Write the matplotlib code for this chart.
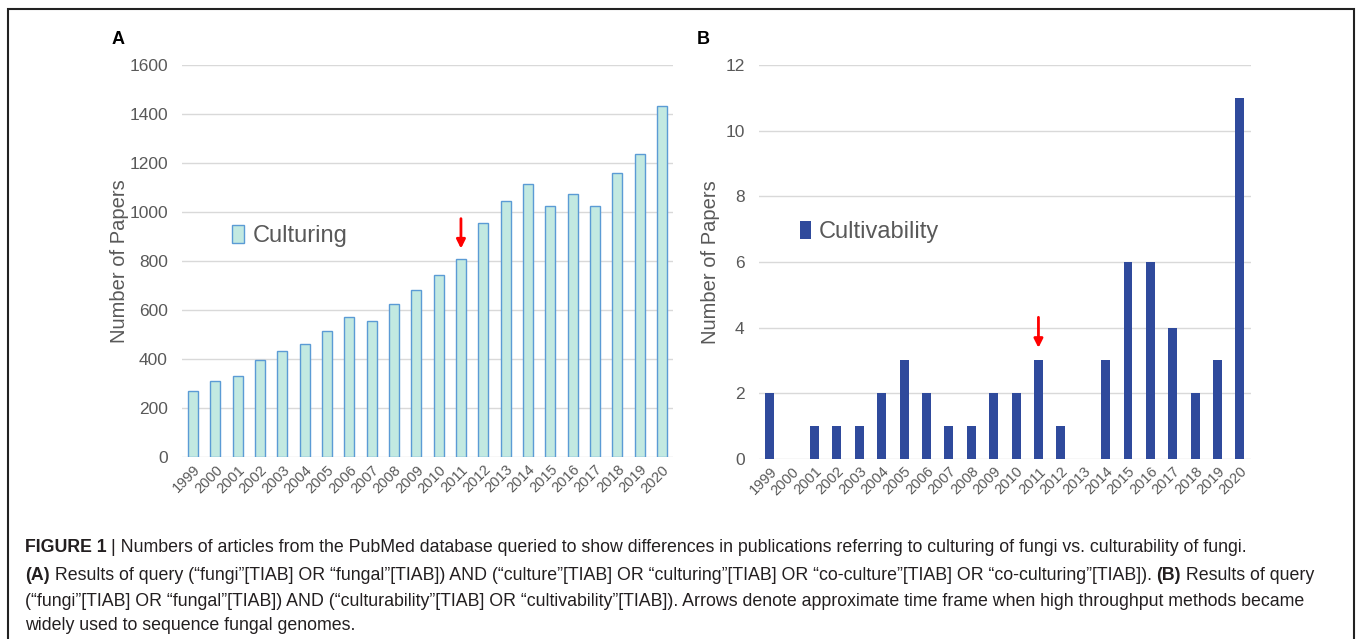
#%%
# -*- coding: utf-8 -*-
import matplotlib
matplotlib.use("Agg")
import matplotlib.pyplot as plt
from matplotlib.patches import Rectangle

plt.rcParams['font.family'] = ['Liberation Sans', 'DejaVu Sans']

#%% data
years = [str(y) for y in range(1999, 2021)]
culturing = [270, 310, 330, 398, 432, 462, 515, 572, 555, 626, 682, 745,
             808, 955, 1045, 1115, 1025, 1073, 1025, 1160, 1237, 1435]
cultivability = [2, 0, 1, 1, 1, 2, 3, 2, 1, 1, 2, 2, 3, 1, 0, 3, 6, 6, 4, 2, 3, 11]
arrow_year = "2011"

#%% figure
fig = plt.figure(figsize=(13.57, 6.39), dpi=100)
grey = "#595959"

def style(ax, ymax, step, lpad):
    ax.set_ylim(0, ymax)
    ax.set_xlim(-0.5, len(years) - 0.5)
    ax.set_yticks(range(0, ymax + 1, step))
    ax.grid(axis="y", color="#d9d9d9", linewidth=1)
    ax.set_axisbelow(True)
    for s in ax.spines.values():
        s.set_visible(False)
    ax.tick_params(length=0, colors=grey, labelsize=12.5)
    ax.tick_params(axis="y", pad=10)
    ax.set_xticks(range(len(years)))
    ax.set_xticklabels(years, rotation=45, ha="right", rotation_mode="anchor",
                       fontsize=10.5, color=grey)
    ax.tick_params(axis="x", pad=4)
    ax.set_ylabel("Number of Papers", fontsize=14.5, color=grey, labelpad=lpad)

# A
ax1 = fig.add_axes([0.134, 0.2848, 0.362, 0.613])
ax1.bar(years, culturing, width=0.45, color="#c2e9e1", edgecolor="#5b9bd5",
        linewidth=1, label="Culturing")
style(ax1, 1600, 200, 0)
ax1.legend(loc="center left", bbox_to_anchor=(0.079, 0.564), frameon=False,
           fontsize=17, handlelength=0.5, handleheight=0.8, handletextpad=0.35,
           borderpad=0, labelcolor=grey)
i = years.index(arrow_year)
ax1.annotate("", xy=(i, 840), xytext=(i, 985),
             arrowprops=dict(arrowstyle="-|>", color="red", lw=2, mutation_scale=13))

# B
ax2 = fig.add_axes([0.559, 0.2817, 0.363, 0.6166])
ax2.bar(years, cultivability, width=0.4, color="#2f4a9c", label="Cultivability")
style(ax2, 12, 2, 4)
ax2.legend(loc="center left", bbox_to_anchor=(0.06, 0.576), frameon=False,
           fontsize=17, handlelength=0.45, handleheight=0.8, handletextpad=0.35,
           borderpad=0, labelcolor=grey)
ax2.annotate("", xy=(i, 3.3), xytext=(i, 4.4),
             arrowprops=dict(arrowstyle="-|>", color="red", lw=2, mutation_scale=13))

fig.text(112 / 1357, 1 - 40 / 639, "A", fontsize=13, fontweight="bold", va="center")
fig.text(697 / 1357, 1 - 40 / 639, "B", fontsize=13, fontweight="bold", va="center")

# frame round the figure
fig.add_artist(Rectangle((8 / 1357, -0.05), 1346 / 1357, 1.05 - 9 / 639,
                         transform=fig.transFigure, fill=False,
                         edgecolor="#222222", linewidth=1.5))

#%% caption, bold and regular pieces placed one after another
caption = [
    [("FIGURE 1 ", "bold"), ("| Numbers of articles from the PubMed database queried to show differences in publications referring to culturing of fungi vs. culturability of fungi.", "normal")],
    [("(A)", "bold"), (" Results of query (\u201cfungi\u201d[TIAB] OR \u201cfungal\u201d[TIAB]) AND (\u201cculture\u201d[TIAB] OR \u201cculturing\u201d[TIAB] OR \u201cco-culture\u201d[TIAB] OR \u201cco-culturing\u201d[TIAB]). ", "normal"), ("(B)", "bold"), (" Results of query", "normal")],
    [("(\u201cfungi\u201d[TIAB] OR \u201cfungal\u201d[TIAB]) AND (\u201cculturability\u201d[TIAB] OR \u201ccultivability\u201d[TIAB]). Arrows denote approximate time frame when high throughput methods became", "normal")],
    [("widely used to sequence fungal genomes.", "normal")],
]
line_y = [548, 576, 601, 626]
fig.canvas.draw()
r = fig.canvas.get_renderer()
for pieces, yy in zip(caption, line_y):
    x = 25 / 1357
    for txt, w in pieces:
        t = fig.text(x, 1 - yy / 639, txt, fontsize=12.8, fontweight=w,
                     color="#231f20", va="center")
        bb = t.get_window_extent(renderer=r)
        x += bb.width / 1357

fig.savefig("out.png", dpi=100)
